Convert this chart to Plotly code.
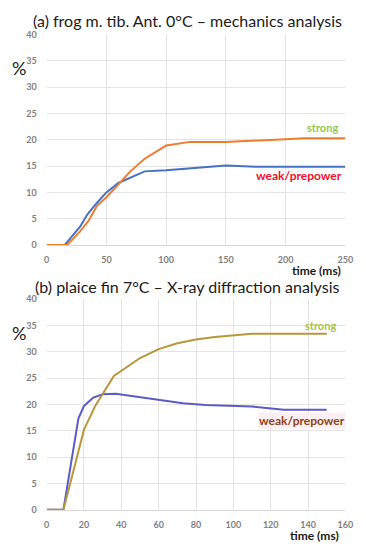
import plotly.graph_objects as go

# Panel (a): frog m. tib. Ant. 0°C – mechanics analysis
a_weak_t = [0, 15, 28, 34, 42, 50, 60, 82, 100, 150, 175, 250]
a_weak_v = [0, 0, 3.5, 5.8, 8.0, 10.0, 11.8, 14.0, 14.2, 15.1, 14.9, 14.9]
a_strong_t = [0, 17, 28, 35, 42, 50, 60, 70, 82, 100, 120, 150, 200, 215, 250]
a_strong_v = [0, 0, 2.6, 4.6, 7.4, 9.1, 11.5, 14.0, 16.4, 18.9, 19.6, 19.6, 20.1, 20.3, 20.3]

# Panel (b): plaice fin 7°C – X-ray diffraction analysis
b_weak_t = [0, 9, 17, 20, 25, 30, 37, 50, 60, 73, 85, 110, 127, 150]
b_weak_v = [0, 0, 17.3, 19.7, 21.3, 21.9, 22.0, 21.3, 20.8, 20.2, 19.9, 19.6, 19.0, 19.0]
b_strong_t = [0, 9, 20, 26, 36, 50, 60, 70, 80, 90, 110, 150]
b_strong_v = [0, 0, 15.2, 19.7, 25.4, 28.8, 30.5, 31.6, 32.3, 32.8, 33.4, 33.4]

a_xticks = [0, 50, 100, 150, 200, 250]
b_xticks = [0, 20, 40, 60, 80, 100, 120, 140, 160]
yticks = [0, 5, 10, 15, 20, 25, 30, 35, 40]

FONT = "Lato"
W, H = 366, 550

def px(x):
    return x / W

def py(y):
    return 1 - y / H

fig = go.Figure()
fig.add_trace(go.Scatter(x=a_weak_t, y=a_weak_v, mode="lines", line=dict(color="#4472C4", width=2),
                         xaxis="x", yaxis="y", showlegend=False))
fig.add_trace(go.Scatter(x=a_strong_t, y=a_strong_v, mode="lines", line=dict(color="#ED7D31", width=2),
                         xaxis="x", yaxis="y", showlegend=False))
fig.add_trace(go.Scatter(x=b_weak_t, y=b_weak_v, mode="lines", line=dict(color="#5B5BC8", width=2),
                         xaxis="x2", yaxis="y2", showlegend=False))
fig.add_trace(go.Scatter(x=b_strong_t, y=b_strong_v, mode="lines", line=dict(color="#B8963A", width=2),
                         xaxis="x2", yaxis="y2", showlegend=False))

tickfont = dict(family=FONT, size=9, color="#808080", weight="bold")
common_x = dict(showgrid=True, gridcolor="#E4E4E4", gridwidth=1, zeroline=False,
                showline=True, linecolor="#D9D9D9", tickfont=tickfont, ticks="", fixedrange=True,
                ticklabelstandoff=6, ticklabeloverflow="allow")
common_y = dict(showgrid=True, gridcolor="#E4E4E4", gridwidth=1, zeroline=False,
                showline=False, tickfont=tickfont, ticks="", range=[0, 40],
                tickvals=yticks, fixedrange=True, ticklabelstandoff=9)

fig.update_layout(
    autosize=True,
    margin=dict(l=0, r=0, t=0, b=0),
    paper_bgcolor="white", plot_bgcolor="white",
    hovermode=False,
    xaxis=dict(common_x, domain=[px(45), px(353)], range=[0, 250], tickvals=a_xticks, anchor="y"),
    yaxis=dict(common_y, domain=[py(244), py(29)], anchor="x"),
    xaxis2=dict(common_x, domain=[px(45), px(353)], range=[0, 160], tickvals=b_xticks, anchor="y2"),
    yaxis2=dict(common_y, domain=[py(514), py(299)], anchor="x2"),
)

annots = [
    dict(text="(a) frog m. tib. Ant. 0°C – mechanics analysis", x=px(190), y=py(15),
         font=dict(family=FONT, size=16, color="#1A1A1A")),
    dict(text="(b) plaice fin 7°C – X-ray diffraction analysis", x=px(190), y=py(286),
         font=dict(family=FONT, size=16, color="#1A1A1A")),
    dict(text="%", x=px(16), y=py(63), font=dict(family=FONT, size=18, color="#1A1A1A")),
    dict(text="%", x=px(16), y=py(334), font=dict(family=FONT, size=18, color="#1A1A1A")),
    dict(text="<b>time (ms)</b>", x=px(323), y=py(261), yanchor="top",
         font=dict(family=FONT, size=12, color="#1A1A1A")),
    dict(text="<b>time (ms)</b>", x=px(321), y=py(532), yanchor="top",
         font=dict(family=FONT, size=12, color="#1A1A1A")),
    dict(text="<b>strong</b>", x=px(329), y=py(124), font=dict(family=FONT, size=11, color="#92C850")),
    dict(text="<b>weak/prepower</b>", x=px(305), y=py(173), font=dict(family=FONT, size=12, color="#F0102A")),
    dict(text="<b>strong</b>", x=px(327), y=py(326), font=dict(family=FONT, size=11, color="#A5C150")),
    dict(text="<b>weak/prepower</b>", x=px(308), y=py(423), font=dict(family=FONT, size=12, color="#8B4513"),
         bgcolor="#FCEFF3"),
]
for a in annots:
    a.setdefault("yanchor", "middle")
    a.update(xref="paper", yref="paper", showarrow=False, xanchor="center", borderpad=0)
    fig.add_annotation(**a)

fig.write_html(
    "out.html",
    default_width="100vw",
    default_height="100vh",
    config={"displayModeBar": False, "responsive": True, "staticPlot": True},
    post_script=(
        "document.documentElement.style.margin='0';"
        "document.documentElement.style.overflow='hidden';"
        "document.body.style.margin='0';"
        "document.body.style.padding='0';"
        "document.body.style.overflow='hidden';"
        "Plotly.Plots.resize(document.getElementById('{plot_id}'));"
    ),
)
